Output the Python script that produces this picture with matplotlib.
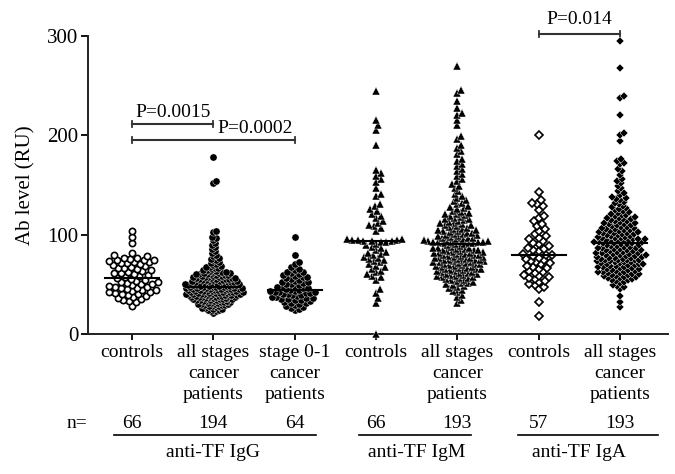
import matplotlib.pyplot as plt
import matplotlib as mpl
import numpy as np

plt.rcParams['font.family'] = ['Liberation Serif', 'DejaVu Serif']
plt.rcParams['font.size'] = 14

# values (RU)
igg_controls = [28, 32, 33, 34, 35, 36, 37, 38, 39, 40, 40, 41, 42, 42, 43, 44, 44, 45,
                46, 46, 47, 47, 48, 49, 50, 50, 51, 52, 52, 53, 54, 55, 56, 57, 58, 59,
                60, 61, 61, 62, 63, 64, 65, 66, 66, 67, 68, 69, 70, 71, 71, 72, 72, 73,
                74, 75, 75, 76, 77, 77, 79, 80, 82, 92, 98, 104]
igg_all = [21, 23, 23, 24, 24, 25, 25, 26, 26, 27,
           28, 28, 28, 29, 29, 29, 30, 30, 30, 30, 31, 31, 31, 32, 32, 32,
           33, 33, 33, 33, 34, 34, 34, 34, 35, 35, 35, 35, 35, 36, 36, 36, 36, 37, 37, 37, 37, 37,
           38, 38, 38, 38, 38, 39, 39, 39, 39, 39, 40, 40, 40, 40, 40, 40, 41, 41, 41, 41, 41,
           42, 42, 42, 42, 42,
           43, 43, 43, 43, 43, 44, 44, 44, 44, 44, 45, 45, 45, 45, 45, 45, 46, 46, 46, 46, 46,
           47, 47, 47, 47, 47,
           48, 48, 48, 48, 48, 49, 49, 49, 49, 49, 50, 50, 50, 50, 50, 51, 51, 51, 51, 51,
           52, 52, 52, 52,
           53, 53, 53, 53, 54, 54, 54, 54, 55, 55, 55, 55, 56, 56, 56, 56, 57, 57, 57, 57,
           58, 58, 58, 59, 59, 59, 60, 60, 60, 60, 61, 61, 61, 62, 62, 62,
           63, 63, 64, 64, 65, 66, 66, 67, 67, 68, 69, 70, 71, 72, 74, 75, 76, 77,
           79, 80, 82, 84, 86, 88, 90, 92, 95, 97, 98, 103, 104, 152, 154, 178]
igg_early = [24, 25, 26, 27, 28, 29, 30, 31, 31, 32, 33, 34, 34, 35, 35, 36, 36, 37, 37,
             38, 39, 39, 40, 40, 41, 41, 42, 42, 42, 43, 43, 44, 44, 45, 46, 46, 47, 47,
             48, 49, 50, 50, 51, 52, 52, 53, 54, 55, 56, 57, 57, 58, 59, 60, 61, 62, 62,
             64, 65, 67, 70, 72, 80, 98]
igm_controls = [0, 31, 36, 41, 45, 54, 57, 58, 60, 62, 63, 65, 67, 68, 70, 72, 73, 75, 76,
                77, 78, 80, 81, 82, 83, 85, 87, 88, 90, 91, 93, 93, 94, 94, 94, 95, 95, 95,
                96, 96, 104, 107, 109, 110, 112, 114, 117, 119, 121, 124, 126, 129, 131,
                139, 141, 147, 153, 156, 159, 162, 165, 190, 205, 210, 215, 245]
igm_all = [31, 34, 37, 39, 42, 43, 44, 46, 47, 48, 49, 50, 51, 51, 52,
           53, 54, 54, 55, 56, 56, 57, 57, 58, 58, 59, 59, 60, 60, 61, 61, 62, 62,
           63, 63, 64, 64, 65, 65, 65, 66, 66, 67, 67,
           68, 68, 69, 69, 70, 70, 70, 71, 71, 72, 72, 72,
           73, 73, 74, 74, 75, 75, 75, 76, 76, 77, 77, 77,
           78, 78, 79, 79, 80, 80, 80, 81, 81, 82, 82, 82,
           83, 83, 84, 84, 85, 85, 85, 86, 86, 87, 87, 87,
           88, 89, 90, 91, 91, 92, 92, 92, 93, 93, 93, 93,
           93, 94, 94, 94, 95, 95, 96, 96, 97, 97, 97,
           98, 99, 99, 100, 100, 101, 101, 102, 102, 103, 104, 104, 105, 105, 106, 106, 107,
           108, 109, 110, 110, 111, 112, 112, 113, 114, 115, 116, 116, 117,
           118, 119, 120, 121, 121, 122, 123, 124, 126, 127, 128, 129, 131, 132,
           134, 135, 137, 139, 141, 144, 147, 149, 151, 154, 156, 159, 161, 164, 166,
           169, 171, 174, 176, 181, 184, 187, 190, 196, 199, 210, 215, 220, 222,
           228, 235, 243, 246, 270]
iga_controls = [18, 32, 45, 47, 49, 50, 52, 53, 55, 56, 57, 58, 59, 61, 62, 63, 65, 66, 67,
                68, 70, 71, 72, 73, 75, 76, 77, 79, 80, 80, 81, 84, 85, 86, 87, 89, 91, 92,
                94, 96, 97, 99, 101, 104, 106, 109, 111, 114, 117, 119, 125, 129, 131, 132,
                135, 143, 200]
iga_all = [27, 32, 38, 45, 47, 48, 49, 51, 52, 53, 54, 54, 55, 56, 56, 57, 57,
           58, 58, 59, 59, 60, 60, 61, 61, 62, 62, 62,
           63, 63, 64, 64, 65, 65, 66, 66, 67, 67, 67,
           68, 68, 69, 69, 70, 70, 70, 71, 71, 72, 72, 72,
           73, 73, 74, 74, 75, 75, 75, 76, 76, 77, 77, 77,
           78, 78, 79, 79, 80, 80, 80, 81, 81, 82, 82, 82,
           83, 83, 84, 84, 85, 85, 85, 86, 86, 87, 87, 87,
           88, 88, 89, 89, 90, 90, 91, 91, 92, 92, 92, 93, 93,
           93, 94, 94, 94, 95, 95, 96, 96, 96, 97, 97, 97,
           98, 98, 99, 99, 100, 100, 101, 101, 102, 102, 102,
           103, 103, 104, 104, 105, 105, 106, 106, 107, 107,
           108, 108, 109, 110, 110, 111, 111, 112, 112,
           113, 114, 114, 115, 116, 116, 117, 117, 118, 119, 120, 120, 121, 122,
           123, 124, 125, 126, 127, 128, 129, 131, 132, 133, 135, 136, 137,
           138, 140, 142, 144, 147, 149, 152, 154, 156, 160, 164, 166, 171, 172,
           174, 176, 194, 200, 202, 220, 238, 240, 268, 295]

groups = [igg_controls, igg_all, igg_early, igm_controls, igm_all, iga_controls, iga_all]
labels = ['controls', 'all stages\ncancer\npatients', 'stage 0-1\ncancer\npatients',
          'controls', 'all stages\ncancer\npatients', 'controls', 'all stages\ncancer\npatients']
n_labels = ['66', '194', '64', '66', '193', '57', '193']
antibodies = ['anti-TF IgG', 'anti-TF IgM', 'anti-TF IgA']
ab_groups = [[0, 1, 2], [3, 4], [5, 6]]
pvals = [(0, 1, 'P=0.0015'), (0, 2, 'P=0.0002'), (5, 6, 'P=0.014')]

# marker style, size (pt), face colour, swarm spacing (px)
styles = [('o', 4.5, 'white', 5.8), ('o', 5.2, 'black', 3.15), ('o', 5.2, 'black', 4.6),
          ('^', 6.0, 'black', 5.4), ('^', 6.0, 'black', 4.8),
          ('D', 3.8, 'white', 5.6), ('D', 4.3, 'black', 4.3)]

fig = plt.figure(figsize=(6.75, 4.74), dpi=100)
ax = fig.add_axes([88 / 675, 140 / 474, 580 / 675, 298 / 474])
ax.set_xlim(-0.541, 6.59)
ax.set_ylim(0, 300)

bbox = ax.get_window_extent()
px_x = bbox.width / 7.131
px_y = bbox.height / 300.0


def swarm(vals, d):
    ys = np.sort(np.asarray(vals, float)) * px_y
    placed = []
    for y in ys:
        cands = [0.0]
        for (qx, qy) in placed:
            dy = y - qy
            if abs(dy) < d:
                dx = np.sqrt(d * d - dy * dy)
                cands += [qx + dx, qx - dx]
        cands.sort(key=lambda c: (abs(c), -c))
        for c in cands:
            if all((c - qx) ** 2 + (y - qy) ** 2 >= d * d - 1e-6 for qx, qy in placed):
                break
        placed.append((c, y))
    xs = np.array([p[0] for p in placed]) / px_x
    return xs, ys / px_y


for i, vals in enumerate(groups):
    m, ms, fc, d = styles[i]
    xo, yv = swarm(vals, d)
    if fc == 'white':
        ax.plot(i + xo, yv, ls='none', marker=m, ms=ms, mfc='white', mec='black',
                mew=1.2, clip_on=False, zorder=3)
    else:
        ax.plot(i + xo, yv, ls='none', marker=m, ms=ms, mfc='black', mec='white',
                mew=0.3, clip_on=False, zorder=3)
    med = np.median(vals)
    ax.plot([i - 0.33, i + 0.33], [med, med], color='black', lw=1.5, zorder=4)

# significance brackets
br_y = [211, 195, 302]
tx_y = [223, 207, 317]
tx_x = [0.5, 1.52, 5.5]
for (a, b, t), yb, yt, xt in zip(pvals, br_y, tx_y, tx_x):
    ax.plot([a, b], [yb, yb], color='#333333', lw=1.5, clip_on=False)
    for xx in (a, b):
        ax.plot([xx, xx], [yb - 3, yb + 3], color='#333333', lw=1.3, clip_on=False)
    ax.text(xt, yt, t, ha='center', va='center', fontsize=14)

for s in ['top', 'right']:
    ax.spines[s].set_visible(False)
for s in ['left', 'bottom']:
    ax.spines[s].set_linewidth(1.4)
    ax.spines[s].set_color('#222222')

ax.set_yticks([0, 100, 200, 300])
ax.tick_params(axis='y', length=5, width=1.3, pad=2, labelsize=15)
ax.set_xticks(range(7))
ax.set_xticklabels(labels, linespacing=1.3)
ax.tick_params(axis='x', length=4, width=1.3, pad=3, labelsize=14)
ax.set_ylabel('Ab level (RU)', fontsize=15, labelpad=8)

tr = ax.get_xaxis_transform()
ax.text(-0.68, -0.30, 'n=', transform=tr, ha='center', va='center', fontsize=14)
for i, t in enumerate(n_labels):
    ax.text(i, -0.30, t, transform=tr, ha='center', va='center', fontsize=14)
spans = [(-0.22, 2.26), (2.79, 4.17), (4.75, 6.47)]
for (x0, x1), name, g in zip(spans, antibodies, ab_groups):
    ax.plot([x0, x1], [-0.34, -0.34], transform=tr, color='black', lw=1.2, clip_on=False)
    ax.text(np.mean(g), -0.396, name, transform=tr, ha='center', va='center', fontsize=14)

fig.savefig('out.png', dpi=100)
